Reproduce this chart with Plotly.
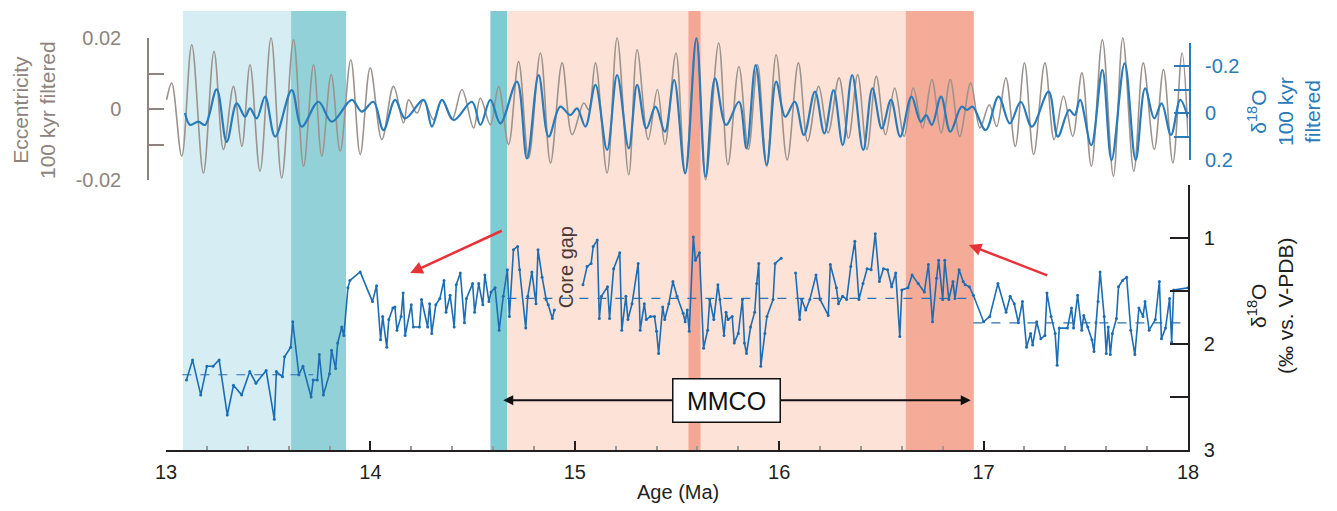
import plotly.graph_objects as go

# ---------------- data ----------------
# eccentricity 100 kyr filtered (extrema)
ecc_age = [13.003, 13.028, 13.077, 13.126, 13.183, 13.235, 13.281, 13.330, 13.371, 13.411, 13.460, 13.514,
           13.566, 13.624, 13.673, 13.722, 13.762, 13.808, 13.852, 13.904, 13.950, 13.999, 14.056, 14.113,
           14.162, 14.187, 14.228, 14.260, 14.309, 14.350, 14.399, 14.448, 14.505, 14.538, 14.587, 14.627,
           14.676, 14.725, 14.774, 14.832, 14.881, 14.938, 14.987, 15.044, 15.068, 15.101, 15.158, 15.207,
           15.264, 15.305, 15.359, 15.404, 15.441, 15.495, 15.540, 15.595, 15.640, 15.704, 15.749, 15.803,
           15.849, 15.894, 15.939, 15.985, 16.039, 16.094, 16.139, 16.193, 16.239, 16.293, 16.339, 16.384,
           16.429, 16.475, 16.520, 16.565, 16.611, 16.656, 16.701, 16.747, 16.792, 16.837, 16.883, 16.937,
           16.982, 17.028, 17.064, 17.109, 17.155, 17.200, 17.245, 17.300, 17.345, 17.391, 17.436, 17.481,
           17.527, 17.581, 17.635, 17.681, 17.735, 17.781, 17.835, 17.880, 17.926, 17.971, 18.000]
ecc_val = [0.0023, 0.0070, -0.0136, 0.0178, -0.0183, 0.0160, -0.0117, 0.0061, -0.0108, 0.0122, -0.0178, 0.0197,
           -0.0197, 0.0192, -0.0164, 0.0122, -0.0136, 0.0094, -0.0122, 0.0136, -0.0131, 0.0113, -0.0089, 0.0061,
           -0.0042, 0.0023, -0.0014, 0.0023, -0.0033, 0.0023, -0.0033, 0.0052, -0.0056, 0.0028, -0.0047, 0.0061,
           -0.0103, 0.0131, -0.0141, 0.0155, -0.0155, 0.0127, -0.0075, 0.0014, -0.0005, 0.0127, -0.0183, 0.0197,
           -0.0188, 0.0164, -0.0089, 0.0052, -0.0103, 0.0155, -0.0183, 0.0197, -0.0202, 0.0183, -0.0160, 0.0117,
           -0.0117, 0.0122, -0.0164, 0.0150, -0.0146, 0.0127, -0.0094, 0.0061, -0.0070, 0.0085, -0.0085, 0.0094,
           -0.0117, 0.0089, -0.0075, 0.0056, -0.0080, 0.0056, -0.0056, 0.0080, -0.0070, 0.0080, -0.0080, 0.0070,
           -0.0056, 0.0009, -0.0052, 0.0085, -0.0108, 0.0127, -0.0131, 0.0127, -0.0089, 0.0033, -0.0080, 0.0099,
           -0.0164, 0.0192, -0.0192, 0.0197, -0.0178, 0.0127, -0.0117, 0.0108, -0.0155, 0.0155, -0.0080]

# d18O 100 kyr filtered (extrema)
filt_age = [13.093, 13.118, 13.158, 13.191, 13.248, 13.297, 13.346, 13.387, 13.411, 13.444, 13.485, 13.534,
            13.615, 13.664, 13.746, 13.811, 13.909, 13.958, 14.015, 14.064, 14.121, 14.170, 14.260, 14.301,
            14.350, 14.407, 14.497, 14.538, 14.587, 14.636, 14.717, 14.766, 14.823, 14.872, 14.929, 14.978,
            15.011, 15.052, 15.101, 15.158, 15.207, 15.264, 15.305, 15.350, 15.395, 15.441, 15.486, 15.540,
            15.595, 15.640, 15.686, 15.740, 15.803, 15.840, 15.885, 15.939, 15.985, 16.030, 16.076, 16.121,
            16.175, 16.221, 16.266, 16.311, 16.357, 16.411, 16.456, 16.502, 16.547, 16.592, 16.647, 16.692,
            16.719, 16.747, 16.792, 16.837, 16.892, 16.919, 16.946, 17.010, 17.073, 17.128, 17.182, 17.236,
            17.318, 17.363, 17.418, 17.445, 17.472, 17.527, 17.581, 17.626, 17.690, 17.744, 17.790, 17.835,
            17.871, 17.917, 17.962, 18.000]
filt_val = [0.000, 0.051, 0.037, 0.051, -0.101, 0.123, -0.041, 0.016, -0.020, 0.023, -0.070, 0.101,
            -0.098, 0.058, -0.048, 0.037, -0.056, -0.006, -0.048, 0.073, -0.056, 0.023, -0.056, 0.058,
            -0.056, 0.030, -0.048, 0.051, -0.056, 0.044, -0.134, 0.194, -0.162, 0.101, -0.027, 0.009,
            -0.020, 0.058, -0.120, 0.158, -0.162, 0.151, -0.120, 0.066, -0.027, 0.080, -0.141, 0.258,
            -0.319, 0.272, -0.148, 0.051, -0.048, 0.151, -0.205, 0.222, -0.134, 0.016, -0.048, 0.094,
            -0.091, 0.087, -0.098, 0.137, -0.162, 0.158, -0.105, 0.066, -0.056, 0.101, -0.070, 0.037,
            0.009, 0.051, -0.070, 0.080, -0.027, -0.013, -0.027, 0.073, -0.070, 0.044, -0.048, 0.058,
            -0.091, 0.101, -0.013, 0.009, -0.056, 0.137, -0.184, 0.201, -0.212, 0.201, -0.105, 0.023,
            -0.041, 0.094, -0.056, 0.020]

# benthic d18O record (None = core gaps)
d18o_age = [13.10, 13.13, 13.17, 13.20, 13.23, 13.26, 13.30, 13.33, 13.37, 13.41, 13.44, 13.49, 13.53, 13.54,
            13.57, 13.58, 13.61, 13.62, 13.65, 13.67, 13.71, 13.72, 13.74, 13.75, 13.77, 13.80, 13.81, 13.83,
            13.84, 13.86, 13.87, 13.89, 13.90, 13.95, 14.01, 14.03, 14.05, 14.06, 14.08, 14.09, 14.11, 14.12,
            14.13, 14.15, 14.16, 14.17, 14.20, 14.21, 14.24, 14.25, 14.28, 14.29, 14.30, 14.32, 14.34, 14.36,
            14.37, 14.39, 14.41, 14.42, 14.44, 14.46, 14.47, 14.50, 14.51, 14.53, 14.55, 14.56, 14.58, 14.59,
            14.61, 14.63, 14.65, 14.67, 14.68, 14.70, 14.72, 14.73, 14.76, 14.77, 14.79, 14.81, 14.82, 14.84,
            14.86, 14.87, 14.89, 14.90, None,
            15.04, 15.06, 15.08, 15.09, 15.11, 15.12, 15.13, 15.16, 15.17, 15.19, 15.22, 15.23, 15.25, 15.26,
            15.28, 15.31, 15.32, 15.34, 15.35, 15.37, 15.39, 15.40, 15.41, 15.43, 15.44, 15.46, 15.48, 15.50,
            15.53, 15.54, 15.55, 15.56, 15.58, 15.59, 15.61, 15.63, 15.65, 15.66, 15.68, 15.70, 15.71, 15.73,
            15.74, 15.75, 15.77, 15.78, 15.80, 15.82, 15.83, 15.84, 15.86, 15.88, 15.89, 15.90, 15.91, 15.93,
            15.94, 15.97, 15.98, 16.01, None,
            16.08, 16.10, 16.11, 16.13, 16.15, 16.18, 16.20, 16.24, 16.25, 16.28, 16.29, 16.31, 16.33, 16.35,
            16.37, 16.39, 16.41, 16.43, 16.45, 16.47, 16.49, 16.51, 16.53, 16.55, 16.57, 16.59, 16.60, 16.63,
            16.65, 16.68, 16.71, 16.73, 16.75, 16.77, 16.78, 16.80, 16.81, 16.83, 16.85, 16.86, 16.88, 16.90,
            16.91, 16.93, 16.95, 17.00, 17.03, 17.07, 17.11, 17.13, 17.15, 17.17, 17.19, 17.21, 17.23, 17.24,
            17.26, 17.28, 17.30, 17.31, 17.33, 17.35, 17.36, 17.37, 17.41, 17.43, 17.44, 17.46, 17.48, 17.49,
            17.51, 17.53, 17.54, 17.55, 17.56, 17.57, 17.59, 17.60, 17.61, 17.62, 17.63, 17.65, 17.66, 17.68,
            17.70, 17.72, 17.74, 17.76, 17.78, 17.79, 17.81, 17.84, 17.86, 17.87, 17.89, 17.91, 17.92, 17.93,
            18.00]
d18o_val = [2.34, 2.15, 2.48, 2.21, 2.21, 2.15, 2.67, 2.39, 2.48, 2.26, 2.37, 2.25, 2.71, 2.26,
            2.31, 2.12, 2.03, 1.79, 2.29, 2.21, 2.50, 2.34, 2.34, 2.10, 2.48, 2.28, 2.06, 2.23,
            1.99, 1.84, 1.92, 1.47, 1.40, 1.32, 1.60, 1.45, 1.96, 1.74, 2.03, 1.77, 1.66, 1.65,
            1.87, 1.74, 1.52, 1.92, 1.63, 1.84, 1.84, 1.58, 1.84, 1.62, 1.90, 1.63, 1.57, 1.40,
            1.70, 1.54, 1.84, 1.44, 1.33, 1.80, 1.57, 1.43, 1.70, 1.43, 1.63, 1.35, 1.60, 1.51,
            1.47, 1.87, 1.55, 1.30, 1.74, 1.11, 1.08, 1.30, 1.85, 1.55, 1.32, 1.62, 1.11, 1.37,
            1.58, 1.63, 1.76, 1.68, None,
            1.44, 1.27, 1.24, 1.08, 1.02, 1.76, 1.55, 1.46, 1.76, 1.29, 1.14, 1.87, 1.55, 1.77,
            1.62, 1.24, 1.87, 1.62, 1.77, 1.74, 1.74, 1.88, 2.09, 1.65, 1.77, 1.62, 1.41, 1.55,
            1.71, 1.79, 1.68, 1.88, 0.99, 1.21, 1.14, 2.04, 1.87, 1.58, 1.77, 1.44, 1.58, 1.92,
            1.70, 1.77, 1.74, 1.99, 1.90, 1.58, 1.99, 2.09, 1.84, 1.70, 1.43, 1.24, 2.21, 1.90,
            1.74, 1.58, 1.24, 1.19, None,
            1.33, 1.77, 1.58, 1.68, 1.58, 1.35, 1.58, 1.73, 1.25, 1.47, 1.62, 1.55, 1.58, 1.27,
            1.03, 1.58, 1.43, 1.29, 1.30, 0.96, 1.41, 1.29, 1.30, 1.46, 1.33, 1.93, 1.49, 1.47,
            1.35, 1.43, 1.51, 1.25, 1.79, 1.38, 1.21, 1.58, 1.21, 1.58, 1.41, 1.57, 1.30, 1.41,
            1.44, 1.46, 1.54, 1.79, 1.74, 1.43, 1.70, 1.55, 1.62, 1.80, 1.60, 2.03, 1.90, 2.01,
            1.79, 1.95, 1.92, 1.52, 1.74, 1.90, 2.20, 1.85, 1.85, 1.66, 1.85, 1.54, 1.87, 1.73,
            1.84, 1.96, 2.07, 1.80, 1.60, 1.32, 1.74, 2.09, 1.84, 2.10, 1.90, 1.76, 1.46, 1.40,
            1.37, 1.87, 2.10, 1.66, 1.74, 1.60, 1.87, 1.77, 1.41, 1.95, 1.85, 1.57, 1.98, 1.49,
            1.47]

# interval means (dashed)
mean_start = [13.08, 14.67, 16.95]
mean_end = [13.72, 16.95, 18.00]
mean_val = [2.29, 1.57, 1.80]

# shaded intervals (Ma)
band_start = [13.083, 13.612, 14.587, 14.670, 15.556, 16.619]
band_end = [13.612, 13.881, 14.670, 16.619, 15.615, 16.952]
band_color = ["#d5edf3", "#92d1d8", "#7ecbd3", "#fde3d7", "#f5a796", "#f4ab98"]

x_ticks = [13, 14, 15, 16, 17, 18]

# ---------------- figure ----------------
OFF = 8                      # page body margin
W, H = 1337 - 2 * OFF, 511 - 2 * OFF


def px(x):
    return (x - OFF) / W


def py(p):
    return 1 - (p - OFF) / H


FONT = "Liberation Sans, Arial, sans-serif"
GRAY = "#8e837d"
BLUE_F = "#2a7bba"
BLUE_D = "#1c6db3"
DARK = "#231f20"
FS = 20

fig = go.Figure()

fig.add_trace(go.Scatter(x=ecc_age, y=ecc_val, yaxis="y2", mode="lines",
                         line=dict(color="#9c938e", width=1.6, shape="spline", smoothing=1.0),
                         showlegend=False, hoverinfo="skip"))
fig.add_trace(go.Scatter(x=filt_age, y=filt_val, yaxis="y3", mode="lines",
                         line=dict(color=BLUE_F, width=2.2, shape="spline", smoothing=1.0),
                         showlegend=False, hoverinfo="skip"))

for s, e, v in zip(mean_start, mean_end, mean_val):
    fig.add_trace(go.Scatter(x=[s, e], y=[v, v], yaxis="y", mode="lines",
                             line=dict(color="#2d6fb0", width=1.2, dash="dash"),
                             showlegend=False, hoverinfo="skip"))

fig.add_trace(go.Scatter(x=d18o_age, y=d18o_val, yaxis="y", mode="lines+markers",
                         line=dict(color=BLUE_D, width=1.6), marker=dict(size=3, color=BLUE_D),
                         connectgaps=False, showlegend=False, hoverinfo="skip"))

# empty traces to host the bracket axes
fig.add_trace(go.Scatter(x=[], y=[], yaxis="y4", showlegend=False, hoverinfo="skip"))
fig.add_trace(go.Scatter(x=[], y=[], yaxis="y5", showlegend=False, hoverinfo="skip"))

shapes = []
for s, e, c in zip(band_start, band_end, band_color):
    shapes.append(dict(type="rect", xref="x", yref="paper", x0=s, x1=e, y0=py(450), y1=py(11),
                       fillcolor=c, line=dict(width=0), layer="below"))

fig.update_layout(
    width=W, height=H, autosize=False,
    margin=dict(l=0, r=0, t=0, b=0, pad=0),
    paper_bgcolor="white", plot_bgcolor="rgba(0,0,0,0)",
    font=dict(family=FONT, size=FS, color=DARK),
    shapes=shapes,
    xaxis=dict(domain=[px(166), px(1188)], range=[13, 18], anchor="y", showline=True, linecolor=DARK,
               linewidth=1.5, ticks="inside", ticklen=9, tickwidth=1.5, tickcolor=DARK, tickvals=x_ticks,
               ticktext=[str(t) for t in x_ticks], showgrid=False, zeroline=False, automargin=False,
               tickfont=dict(size=FS, color=DARK), ticklabelstandoff=3,
               minor=dict(dtick=0.2, ticks="inside", ticklen=4, tickcolor="#9a9a9a", showgrid=False)),
    yaxis=dict(domain=[py(450), py(185)], range=[3.0, 0.5], side="right", anchor="x", automargin=False,
               showline=True, linecolor=DARK, linewidth=1.5, ticks="inside", ticklen=18, tickwidth=1.5,
               tickcolor=DARK, tickvals=[0.5, 1, 1.5, 2, 2.5, 3], ticktext=["", "1", "", "2", "", "3"],
               showgrid=False, zeroline=False, tickfont=dict(size=FS, color=DARK), ticklabelstandoff=10),
    yaxis2=dict(domain=[py(185), py(12)], range=[(108 - 185) / 3550, (108 - 12) / 3550],
                anchor="x", visible=False, automargin=False),
    yaxis3=dict(domain=[py(185), py(12)], range=[(185 - 113) / 234, (12 - 113) / 234],
                anchor="x", visible=False, automargin=False),
    yaxis4=dict(domain=[py(160), py(43)], range=[0.2, -0.3], anchor="free", position=px(1190),
                side="right", showline=True, linecolor=BLUE_F, linewidth=2, ticks="inside", ticklen=15,
                tickwidth=2, tickcolor=BLUE_F, tickvals=[-0.3, -0.2, -0.1, 0, 0.1, 0.2], automargin=False,
                ticktext=["", "-0.2", "", "0", "", "0.2"], showgrid=False, zeroline=False,
                tickfont=dict(size=FS, color=BLUE_F), ticklabelstandoff=10),
    yaxis5=dict(domain=[py(180), py(38)], range=[-0.02, 0.02], anchor="free", position=px(148),
                side="left", showline=True, linecolor=GRAY, linewidth=1.5, ticks="inside", ticklen=15,
                tickwidth=1.5, tickcolor=GRAY, tickvals=[-0.02, -0.01, 0, 0.01, 0.02], automargin=False,
                ticktext=["-0.02", "", "0", "", "0.02"], showgrid=False, zeroline=False,
                tickfont=dict(size=FS, color=GRAY), ticklabelstandoff=22),
)

C = dict(xanchor="center", yanchor="middle", showarrow=False)
ann = []
# axis titles
ann.append(dict(xref="paper", yref="paper", x=px(34), y=py(110), text="Eccentricity<br>100 kyr filtered",
                textangle=-90, font=dict(size=21, color=GRAY), **C))
ann.append(dict(xref="paper", yref="paper", x=px(1284), y=py(112),
                text="δ<sup>18</sup>O<br>100 kyr<br>filtered",
                textangle=-90, font=dict(size=21, color=BLUE_F), **C))
ann.append(dict(xref="paper", yref="paper", x=px(1270), y=py(306), text="δ<sup>18</sup>O<br>(‰ vs. V-PDB)",
                textangle=-90, font=dict(size=21, color=DARK), **C))
ann.append(dict(xref="paper", yref="paper", x=px(678), y=py(492), text="Age (Ma)",
                font=dict(size=20, color=DARK), **C))
# core gap
ann.append(dict(xref="x", yref="y", x=14.955, y=1.28, text="Core gap", textangle=-90,
                font=dict(size=20, color="#4a3a35"), **C))
# MMCO double arrow
ann.append(dict(xref="x", yref="y", x=14.65, y=2.53, ax=15.74, ay=2.53, axref="x", ayref="y", text="",
                showarrow=True, arrowhead=2, arrowsize=1, arrowwidth=2, arrowcolor="#111111", standoff=0))
ann.append(dict(xref="x", yref="y", x=16.937, y=2.53, ax=15.74, ay=2.53, axref="x", ayref="y", text="",
                showarrow=True, arrowhead=2, arrowsize=1, arrowwidth=2, arrowcolor="#111111", standoff=0))
ann.append(dict(xref="x", yref="y", x=15.742, y=2.53, text="MMCO",
                font=dict(size=25, color="#111111"), bgcolor="white", bordercolor="#111111",
                borderwidth=1.5, borderpad=3, width=100, height=36, **C))
# red arrows
ann.append(dict(xref="x", yref="y", x=14.195, y=1.33, ax=14.65, ay=0.925, axref="x", ayref="y", text="",
                showarrow=True, arrowhead=2, arrowsize=1, arrowwidth=2.5, arrowcolor="#e8323a", standoff=0))
ann.append(dict(xref="x", yref="y", x=16.928, y=1.066, ax=17.319, ay=1.358, axref="x", ayref="y", text="",
                showarrow=True, arrowhead=2, arrowsize=1, arrowwidth=2.5, arrowcolor="#e8323a", standoff=0))

fig.update_layout(annotations=ann)

fig.write_html("out.html")
